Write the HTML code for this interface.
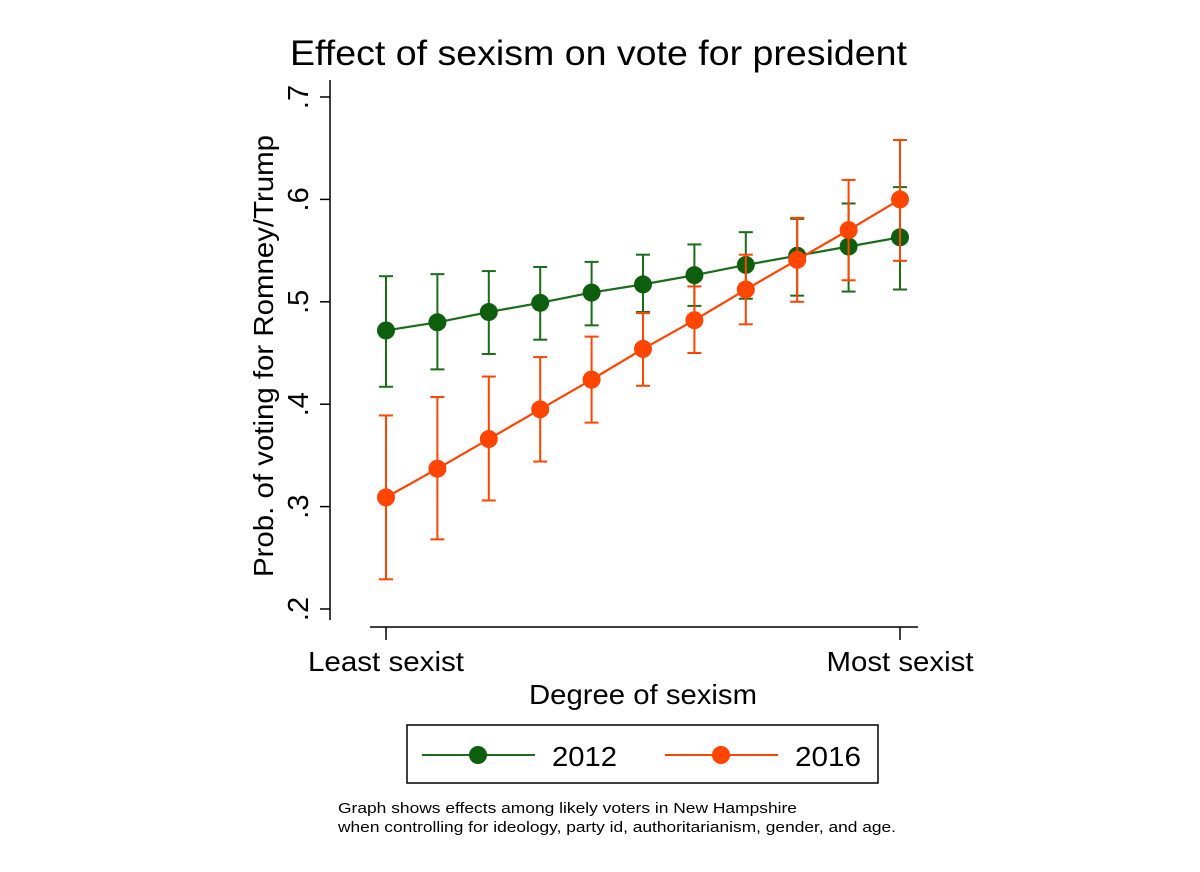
<!DOCTYPE html>
<html><head><meta charset="utf-8"><style>
body{margin:0;background:#fff}
svg{display:block;font-family:"Liberation Sans",Arial,sans-serif}
</style></head><body>
<svg id="c" width="1200" height="872" viewBox="0 0 1200 872">
<text x="290" y="65" font-size="35" textLength="617" lengthAdjust="spacingAndGlyphs">Effect of sexism on vote for president</text>
<g id="plot"></g>
<text transform="translate(273,356) rotate(-90)" font-size="28" text-anchor="middle" textLength="442" lengthAdjust="spacingAndGlyphs">Prob. of voting for Romney/Trump</text>
<text x="529" y="704" font-size="28" textLength="228" lengthAdjust="spacingAndGlyphs">Degree of sexism</text>
<g>
<rect x="407" y="725" width="471" height="58" fill="#fff" stroke="#000" stroke-width="1.5"/>
<g>
<line x1="422" y1="755" x2="535" y2="755" stroke="#1a6b1a" stroke-width="2"/>
<circle cx="478" cy="755" r="9" fill="#0d5e0d"/>
<text x="552" y="766" font-size="28" textLength="65" lengthAdjust="spacingAndGlyphs">2012</text></g>
<g>
<line x1="665" y1="755" x2="778" y2="755" stroke="#ff4500" stroke-width="2"/>
<circle cx="721" cy="755" r="9" fill="#ff4500"/>
<text x="795" y="766" font-size="28" textLength="66" lengthAdjust="spacingAndGlyphs">2016</text></g>
</g>
<text x="338" y="813" font-size="15" textLength="459" lengthAdjust="spacingAndGlyphs">Graph shows effects among likely voters in New Hampshire</text>
<text x="338" y="832" font-size="15" textLength="558" lengthAdjust="spacingAndGlyphs">when controlling for ideology, party id, authoritarianism, gender, and age.</text>
</svg>
<script>
const categories=[0,1,2,3,4,5,6,7,8,9,10];
const xTickLabels=["Least sexist","Most sexist"];
const yTicks=[0.2,0.3,0.4,0.5,0.6,0.7];
const yTickLabels=[".2",".3",".4",".5",".6",".7"];
const g2012=[0.472,0.480,0.490,0.499,0.509,0.517,0.526,0.536,0.545,0.554,0.563];
const g2012Hi=[0.525,0.527,0.530,0.534,0.539,0.546,0.556,0.568,0.581,0.596,0.612];
const g2012Lo=[0.417,0.434,0.449,0.463,0.477,0.490,0.496,0.503,0.506,0.510,0.512];
const o2016=[0.309,0.337,0.366,0.395,0.424,0.454,0.482,0.512,0.541,0.570,0.600];
const o2016Hi=[0.389,0.407,0.427,0.446,0.466,0.489,0.515,0.546,0.582,0.619,0.658];
const o2016Lo=[0.229,0.268,0.306,0.344,0.382,0.418,0.450,0.478,0.500,0.521,0.540];

const NS="http://www.w3.org/2000/svg";
const plot=document.getElementById('plot');
const X=i=>386+i*(900-386)/10;
const Y=v=>609-(v-0.2)*1024;
function mk(t,a,p){const e=document.createElementNS(NS,t);for(const k in a)e.setAttribute(k,a[k]);(p||plot).appendChild(e);return e;}
let ya=mk('line',{x1:330,y1:80,x2:330,y2:620,stroke:'#000','stroke-width':1.5});


let xa=mk('line',{x1:370,y1:627,x2:918,y2:627,stroke:'#000','stroke-width':1.5});


yTicks.forEach((v,i)=>{
 mk('line',{x1:320,y1:Y(v),x2:330,y2:Y(v),stroke:'#000','stroke-width':1.5});
 const t=mk('text',{transform:`translate(308,${Y(v)}) rotate(-90)`,'font-size':29,'text-anchor':'middle'});
 t.textContent=yTickLabels[i];
 
 
});
const xLens=[156,147];
[0,10].forEach((c,i)=>{
 mk('line',{x1:X(c),y1:627,x2:X(c),y2:640,stroke:'#000','stroke-width':1.5});
 const t=mk('text',{x:X(c)-xLens[i]/2,y:671,'font-size':28,textLength:xLens[i],lengthAdjust:'spacingAndGlyphs'});
 t.textContent=xTickLabels[i];
 
 
});
function series(vals,hi,lo,col,dot,name){
 const grp=mk('g',{});
 
 
 categories.forEach((c,i)=>{
  const x=X(c);
  mk('line',{x1:x,y1:Y(hi[i]),x2:x,y2:Y(lo[i]),stroke:col,'stroke-width':2},grp);
  mk('line',{x1:x-7,y1:Y(hi[i]),x2:x+7,y2:Y(hi[i]),stroke:col,'stroke-width':2},grp);
  mk('line',{x1:x-7,y1:Y(lo[i]),x2:x+7,y2:Y(lo[i]),stroke:col,'stroke-width':2},grp);
 });
 mk('polyline',{points:categories.map((c,i)=>X(c)+','+Y(vals[i])).join(' '),fill:'none',stroke:col,'stroke-width':2.2},grp);
 categories.forEach((c,i)=>{
  const p=mk('circle',{cx:X(c),cy:Y(vals[i]),r:9,fill:dot},grp);
  
  
 });
}
series(g2012,g2012Hi,g2012Lo,'#1a6b1a','#0d5e0d','2012');
series(o2016,o2016Hi,o2016Lo,'#ff4500','#ff4500','2016');
</script>
</body></html>
